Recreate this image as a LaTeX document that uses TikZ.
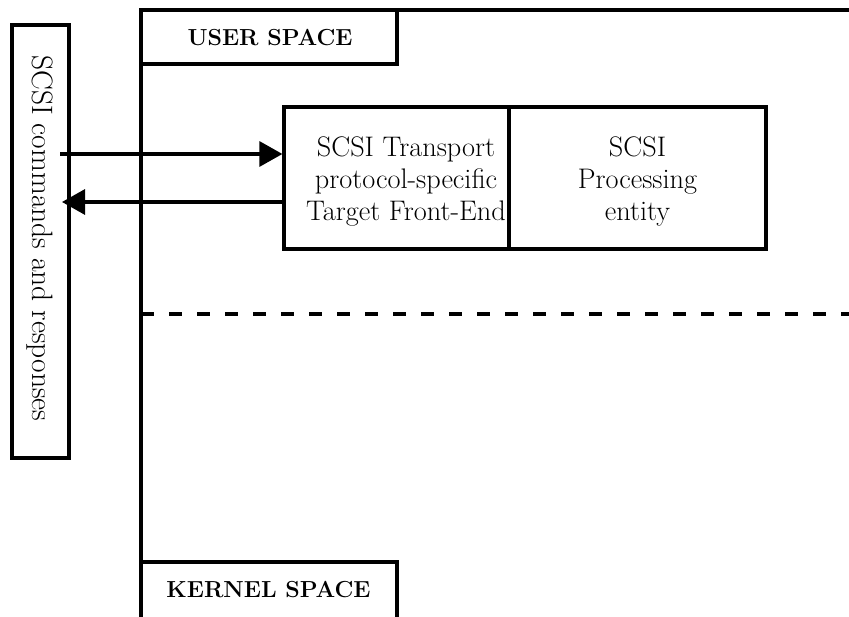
\documentclass[tikz,border=0pt]{standalone}
\usetikzlibrary{arrows.meta}
\begin{document}
\begin{tikzpicture}[x=1pt,y=-1pt,
  lw/.style={line width=3.2pt},
  box/.style={draw,lw,rectangle,inner sep=0pt},
  txt/.style={align=center,font=\fontsize{28.3}{32}\selectfont,inner sep=0pt},
  lbl/.style={font=\fontsize{23.2}{28}\selectfont\bfseries,inner sep=0pt},
  arr/.style={lw,-{Triangle[length=23pt,width=25pt]}}]
\useasboundingbox (0,0) rectangle (849,617);
% left box
\node[box,minimum width=57pt,minimum height=433pt] (cmd) at (40.5,241.5) {};
\node[font=\fontsize{29.5}{32}\selectfont,inner sep=0pt,rotate=-90] (cmdt) at (40,238.5) {SCSI commands and responses};
% frame
\draw[lw] (849,10) -- (141,10) -- (141,620);
\node[box,minimum width=256pt,minimum height=54pt] (user) at (269,37) {};
\node[lbl] (usert) at (270,37.5) {USER SPACE};
\node[box,minimum width=256pt,minimum height=60pt] (kern) at (269,592) {};
\node[lbl] (kernt) at (268.5,589.5) {KERNEL SPACE};
% dashed divider
\draw[lw,dash pattern=on 13pt off 15pt] (141,314) -- (849,314);
% boxes
\node[box,minimum width=225pt,minimum height=142pt] (tp) at (396.5,178) {};
\node[txt] (tpt) at (406,181) {SCSI Transport\\protocol-specific\\Target Front-End};
\node[box,minimum width=257pt,minimum height=142pt] (pe) at (637.5,178) {};
\node[txt] (pet) at (637.5,181) {SCSI\\Processing\\entity};
% arrows
\coordinate (in1) at (60,154);
\coordinate (out1) at (62,202);
\draw[arr] (in1) -- (tp.west |- in1);
\draw[arr] (tp.west |- out1) -- (out1);
\end{tikzpicture}
\end{document}
